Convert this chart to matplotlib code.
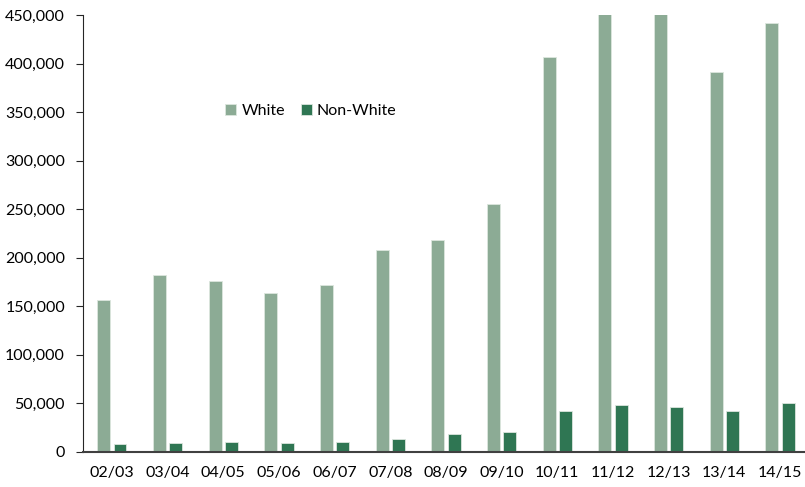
"""Grouped bars: White vs Non-White counts by academic year."""
import numpy as np
import matplotlib.pyplot as plt
from matplotlib.ticker import FuncFormatter, MultipleLocator

plt.rcParams["font.family"] = ["Lato", "DejaVu Sans"]

years = ["02/03", "03/04", "04/05", "05/06", "06/07", "07/08", "08/09",
         "09/10", "10/11", "11/12", "12/13", "13/14", "14/15"]
white = [157000, 182000, 176000, 164000, 172000, 208000, 218000,
         255000, 407000, 468000, 463000, 391000, 442000]
non_white = [8000, 9500, 10300, 9000, 10000, 13500, 18500,
             21000, 42000, 48000, 46000, 42000, 50000]

C_WHITE = "#8CAB95"
C_NONWHITE = "#2F7653"

fig = plt.figure(figsize=(8.05, 4.87), dpi=100)
ax = fig.add_axes([0.1031, 0.0719, 0.8969, 0.8973])

x = np.arange(len(years))
w = 0.233
ax.bar(x - 0.145, white, w, color=C_WHITE, edgecolor="#DCE6DE", lw=0.6, label="White")
ax.bar(x + 0.145, non_white, w, color=C_NONWHITE, edgecolor="#DCE6DE", lw=0.6, label="Non-White")

ax.set_xlim(-0.52, 12.45)
ax.set_ylim(0, 450000)
ax.yaxis.set_major_locator(MultipleLocator(50000))
ax.yaxis.set_major_formatter(FuncFormatter(lambda v, p: f"{int(v):,}"))
ax.set_xticks(x)
ax.set_xticklabels(years)

for s in ["top", "right"]:
    ax.spines[s].set_visible(False)
ax.spines["left"].set_color("#262626")
ax.spines["bottom"].set_color("#404040")
ax.spines["bottom"].set_linewidth(1.5)
ax.tick_params(axis="y", length=5, color="#262626", labelsize=11.5, pad=8)
ax.tick_params(axis="x", length=0, labelsize=11.5, pad=10)

ax.legend(loc="center left", bbox_to_anchor=(0.262, 0.772), bbox_transform=fig.transFigure,
          ncol=2, frameon=False, fontsize=11.5, handlelength=0.7, handleheight=0.7,
          handletextpad=0.3, columnspacing=1.0)

fig.savefig("out.png", dpi=100)
